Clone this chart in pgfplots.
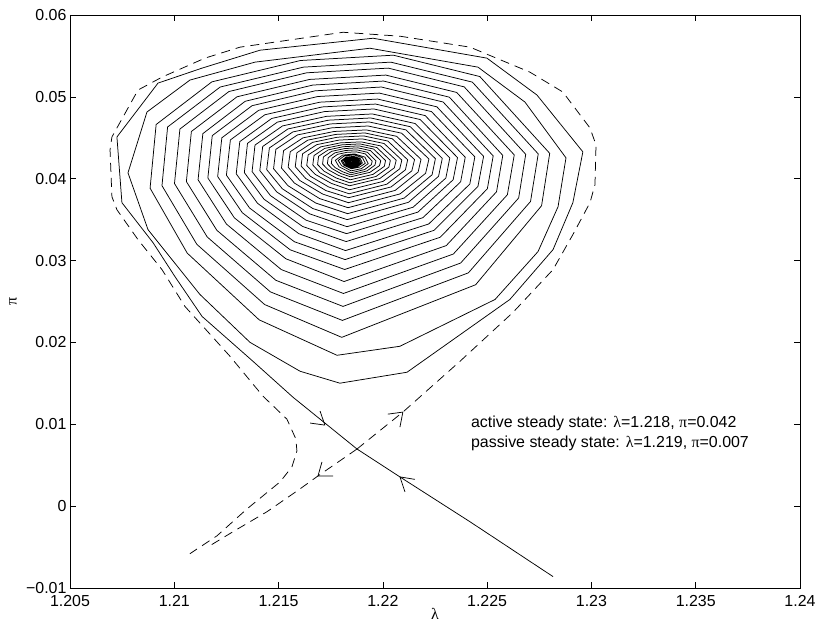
\documentclass[border=0pt]{standalone}
\usepackage{fontspec}
\setmainfont{Liberation Sans}
\newfontfamily\gr{Liberation Serif}
\usepackage{pgfplots}
\pgfplotsset{compat=1.18}
\begin{document}
\begin{tikzpicture}
\useasboundingbox (-70bp,-38bp) rectangle (747bp,588bp);
\begin{axis}[
  at={(0,0)}, anchor=south west,
  scale only axis, width=730bp, height=573bp,
  xmin=1.205, xmax=1.24, ymin=-0.01, ymax=0.06,
  scaled x ticks=false, scaled y ticks=false,
  xtick={1.205,1.21,1.215,1.22,1.225,1.23,1.235,1.24},
  xticklabels={1.205,1.21,1.215,1.22,1.225,1.23,1.235,1.24},
  ytick={-0.01,0,0.01,0.02,0.03,0.04,0.05,0.06},
  yticklabels={−0.01,0,0.01,0.02,0.03,0.04,0.05,0.06},
  tick align=inside,
  major tick length=6bp,
  tick style={black, line width=0.6pt},
  axis line style={line width=0.8pt},
  ticklabel style={font=\fontsize{16}{19}\selectfont},
  xticklabel style={yshift=-4bp},
  xlabel={\gr λ}, ylabel={\gr π},
  label style={font=\fontsize{16}{19}\selectfont},
  xlabel style={at={(axis description cs:0.5,-0.046)}, anchor=center},
  ylabel style={at={(axis description cs:-0.078,0.5)}, anchor=center},
  cycle list={{black,no markers}},
  every axis plot/.append style={black, no markers, line width=0.75pt, line join=round},
]
% stable manifold / spiral (solid)
\addplot[black, no markers, solid] coordinates {
(1.22816,-0.00861) (1.22418,-0.00191) (1.22082,0.00357) (1.21876,0.00698)
(1.21569,0.01331) (1.21377,0.01770) (1.21133,0.02318) (1.21003,0.02805) (1.20898,0.03219)
(1.20749,0.03707) (1.20725,0.04510) (1.20922,0.05168) (1.21133,0.05351) (1.21411,0.05570)
(1.21953,0.05716) (1.22499,0.05473) (1.22739,0.05022) (1.22959,0.04328) (1.22911,0.03707)
(1.22816,0.03134) (1.22609,0.02525) (1.22116,0.01636) (1.21794,0.01502)
(1.21603,0.01648) (1.21363,0.02001) (1.21123,0.02586) (1.20989,0.03012) (1.20874,0.03378)
(1.20778,0.04072) (1.20869,0.04815) (1.21075,0.05205) (1.21387,0.05424) (1.21938,0.05594)
(1.22456,0.05363) (1.22681,0.04937) (1.22878,0.04255) (1.22840,0.03658) (1.22744,0.03110)
(1.22538,0.02525) (1.22082,0.01953) (1.21780,0.01843)
(1.21407,0.02276) (1.21062,0.03091) (1.20884,0.03884) (1.20913,0.04662) (1.21180,0.05183) (1.21605,0.05444) (1.22050,0.05509) (1.22465,0.05248) (1.22800,0.04310) (1.22761,0.03670) (1.22445,0.02705) (1.21803,0.02062)
(1.21433,0.02463) (1.21108,0.03199) (1.20941,0.03915) (1.20968,0.04632) (1.21220,0.05120) (1.21619,0.05363) (1.22038,0.05424) (1.22429,0.05180) (1.22745,0.04303) (1.22708,0.03722) (1.22410,0.02850) (1.21806,0.02269)
(1.21461,0.02617) (1.21158,0.03288) (1.21001,0.03941) (1.21027,0.04607) (1.21262,0.05065) (1.21635,0.05294) (1.22026,0.05351) (1.22390,0.05122) (1.22685,0.04298) (1.22651,0.03764) (1.22373,0.02970) (1.21809,0.02440)
(1.21487,0.02759) (1.21204,0.03370) (1.21058,0.03965) (1.21082,0.04577) (1.21301,0.05001) (1.21649,0.05213) (1.22014,0.05266) (1.22354,0.05054) (1.22630,0.04291) (1.22597,0.03804) (1.22338,0.03080) (1.21811,0.02598)
(1.21513,0.02890) (1.21250,0.03446) (1.21114,0.03987) (1.21137,0.04551) (1.21340,0.04946) (1.21664,0.05144) (1.22003,0.05193) (1.22319,0.04996) (1.22575,0.04285) (1.22545,0.03840) (1.22304,0.03183) (1.21814,0.02744)
(1.21535,0.03022) (1.21288,0.03522) (1.21161,0.04009) (1.21182,0.04526) (1.21373,0.04892) (1.21676,0.05074) (1.21993,0.05120) (1.22289,0.04937) (1.22529,0.04279) (1.22501,0.03877) (1.22275,0.03285) (1.21817,0.02891)
(1.21556,0.03131) (1.21326,0.03585) (1.21208,0.04027) (1.21228,0.04500) (1.21405,0.04836) (1.21688,0.05004) (1.21983,0.05046) (1.22259,0.04878) (1.22483,0.04273) (1.22456,0.03907) (1.22246,0.03370) (1.21819,0.03012)
(1.21576,0.03230) (1.21361,0.03642) (1.21250,0.04043) (1.21269,0.04474) (1.21434,0.04781) (1.21698,0.04935) (1.21975,0.04973) (1.22233,0.04820) (1.22441,0.04267) (1.22417,0.03935) (1.22220,0.03447) (1.21821,0.03122)
(1.21597,0.03329) (1.21399,0.03700) (1.21297,0.04060) (1.21314,0.04453) (1.21467,0.04736) (1.21710,0.04877) (1.21965,0.04912) (1.22203,0.04771) (1.22395,0.04262) (1.22373,0.03962) (1.22192,0.03524) (1.21824,0.03232)
(1.21615,0.03417) (1.21430,0.03750) (1.21336,0.04074) (1.21351,0.04432) (1.21494,0.04691) (1.21720,0.04820) (1.21957,0.04852) (1.22179,0.04723) (1.22358,0.04258) (1.22337,0.03987) (1.22168,0.03592) (1.21826,0.03329)
(1.21632,0.03493) (1.21461,0.03794) (1.21373,0.04087) (1.21387,0.04411) (1.21519,0.04645) (1.21730,0.04762) (1.21950,0.04791) (1.22155,0.04674) (1.22321,0.04253) (1.22302,0.04008) (1.22145,0.03652) (1.21828,0.03414)
(1.21649,0.03571) (1.21491,0.03839) (1.21410,0.04100) (1.21424,0.04394) (1.21545,0.04608) (1.21739,0.04715) (1.21942,0.04742) (1.22132,0.04635) (1.22285,0.04249) (1.22267,0.04029) (1.22123,0.03712) (1.21829,0.03500)
(1.21664,0.03636) (1.21518,0.03877) (1.21443,0.04111) (1.21456,0.04376) (1.21568,0.04571) (1.21748,0.04669) (1.21935,0.04693) (1.22111,0.04596) (1.22252,0.04245) (1.22236,0.04048) (1.22102,0.03763) (1.21831,0.03573)
(1.21679,0.03702) (1.21545,0.03915) (1.21476,0.04122) (1.21487,0.04359) (1.21591,0.04535) (1.21756,0.04622) (1.21929,0.04644) (1.22090,0.04556) (1.22221,0.04241) (1.22205,0.04066) (1.22082,0.03814) (1.21833,0.03646)
(1.21697,0.03757) (1.21576,0.03947) (1.21514,0.04131) (1.21524,0.04343) (1.21617,0.04499) (1.21766,0.04577) (1.21921,0.04596) (1.22066,0.04518) (1.22183,0.04237) (1.22169,0.04081) (1.22059,0.03857) (1.21835,0.03707)
(1.21712,0.03812) (1.21602,0.03978) (1.21546,0.04140) (1.21556,0.04330) (1.21640,0.04471) (1.21774,0.04541) (1.21914,0.04559) (1.22045,0.04488) (1.22152,0.04234) (1.22139,0.04096) (1.22039,0.03899) (1.21836,0.03768)
(1.21727,0.03855) (1.21630,0.04003) (1.21580,0.04147) (1.21588,0.04317) (1.21663,0.04444) (1.21782,0.04507) (1.21908,0.04523) (1.22024,0.04460) (1.22119,0.04231) (1.22108,0.04108) (1.22019,0.03933) (1.21838,0.03816)
(1.21740,0.03899) (1.21653,0.04029) (1.21608,0.04155) (1.21615,0.04304) (1.21683,0.04416) (1.21790,0.04472) (1.21902,0.04486) (1.22006,0.04430) (1.22091,0.04228) (1.22081,0.04121) (1.22001,0.03967) (1.21840,0.03865)
(1.21753,0.03943) (1.21675,0.04054) (1.21635,0.04162) (1.21642,0.04291) (1.21702,0.04389) (1.21797,0.04438) (1.21896,0.04450) (1.21989,0.04401) (1.22064,0.04226) (1.22055,0.04133) (1.21985,0.04002) (1.21841,0.03914)
(1.21766,0.03976) (1.21698,0.04073) (1.21664,0.04168) (1.21670,0.04283) (1.21721,0.04370) (1.21804,0.04414) (1.21890,0.04425) (1.21971,0.04381) (1.22036,0.04224) (1.22029,0.04142) (1.21967,0.04027) (1.21842,0.03950)
(1.21776,0.04009) (1.21718,0.04092) (1.21687,0.04173) (1.21692,0.04274) (1.21738,0.04352) (1.21810,0.04391) (1.21886,0.04401) (1.21956,0.04362) (1.22013,0.04222) (1.22007,0.04151) (1.21953,0.04053) (1.21844,0.03987)
(1.21787,0.04041) (1.21737,0.04111) (1.21711,0.04179) (1.21715,0.04266) (1.21754,0.04334) (1.21816,0.04368) (1.21881,0.04377) (1.21941,0.04343) (1.21990,0.04220) (1.21984,0.04160) (1.21938,0.04078) (1.21845,0.04023)
(1.21798,0.04064) (1.21756,0.04124) (1.21734,0.04182) (1.21738,0.04257) (1.21770,0.04316) (1.21822,0.04345) (1.21876,0.04352) (1.21926,0.04323) (1.21967,0.04218) (1.21962,0.04166) (1.21924,0.04095) (1.21846,0.04048)
(1.21807,0.04085) (1.21771,0.04136) (1.21753,0.04186) (1.21756,0.04249) (1.21783,0.04298) (1.21827,0.04322) (1.21872,0.04328) (1.21915,0.04304) (1.21949,0.04216) (1.21945,0.04172) (1.21913,0.04112) (1.21847,0.04072)
(1.21790,0.04145) (1.21772,0.04225) (1.21807,0.04288) (1.21864,0.04303) (1.21914,0.04264) (1.21930,0.04184) (1.21897,0.04123) (1.21848,0.04096)
(1.21802,0.04159) (1.21786,0.04223) (1.21815,0.04278) (1.21862,0.04291) (1.21902,0.04257) (1.21916,0.04189) (1.21889,0.04142) (1.21849,0.04121)
(1.21812,0.04166) (1.21800,0.04219) (1.21823,0.04263) (1.21860,0.04273) (1.21892,0.04246) (1.21902,0.04191) (1.21881,0.04151) (1.21849,0.04133)
(1.21817,0.04172) (1.21807,0.04217) (1.21827,0.04255) (1.21859,0.04264) (1.21886,0.04240) (1.21895,0.04193) (1.21877,0.04160) (1.21850,0.04145)
(1.21823,0.04179) (1.21815,0.04216) (1.21831,0.04248) (1.21858,0.04255) (1.21881,0.04235) (1.21888,0.04196) (1.21873,0.04169) (1.21850,0.04157)
(1.21827,0.04183) (1.21820,0.04215) (1.21834,0.04242) (1.21857,0.04249) (1.21877,0.04231) (1.21884,0.04198) (1.21870,0.04173) (1.21850,0.04163)
(1.21830,0.04186) (1.21824,0.04213) (1.21836,0.04237) (1.21856,0.04243) (1.21874,0.04228) (1.21880,0.04199) (1.21868,0.04178) (1.21851,0.04169)
(1.21834,0.04190) (1.21829,0.04212) (1.21839,0.04231) (1.21856,0.04236) (1.21870,0.04224) (1.21875,0.04200) (1.21865,0.04183) (1.21851,0.04176)
(1.21838,0.04193) (1.21833,0.04211) (1.21842,0.04226) (1.21855,0.04230) (1.21866,0.04220) (1.21870,0.04201) (1.21862,0.04188) (1.21851,0.04182)
(1.21842,0.04196) (1.21839,0.04209) (1.21845,0.04220) (1.21854,0.04223) (1.21861,0.04216) (1.21864,0.04203) (1.21858,0.04194) (1.21852,0.04191)
(1.21846,0.04200) (1.21845,0.04208) (1.21849,0.04214) (1.21854,0.04215) (1.21858,0.04211) (1.21859,0.04204) (1.21855,0.04199) (1.21852,0.04206)
};
% unstable manifold (dashed)
\addplot[black, no markers, dash pattern=on 9bp off 6bp] coordinates {
(1.21876,0.00698) (1.22096,0.01149) (1.22370,0.01770) (1.22624,0.02367) (1.22816,0.02890)
(1.22911,0.03317) (1.22993,0.03707) (1.23017,0.03926) (1.23022,0.04413) (1.22993,0.04620)
(1.22863,0.05059) (1.22705,0.05302) (1.22418,0.05607) (1.22082,0.05741) (1.21809,0.05789)
(1.21315,0.05607) (1.21147,0.05473) (1.20941,0.05241) (1.20826,0.05083) (1.20701,0.04510)
(1.20692,0.04352) (1.20701,0.03780) (1.20725,0.03621) (1.20826,0.03256) (1.20941,0.02890)
(1.21051,0.02440) (1.21267,0.01831) (1.21425,0.01344) (1.21540,0.01063) (1.21583,0.00820)
(1.21588,0.00674) (1.21564,0.00479) (1.21507,0.00296) (1.21349,-0.00033) (1.21205,-0.00362)
(1.21075,-0.00581)
};
\addplot[black, no markers, dash pattern=on 9bp off 6bp] coordinates {
(1.21876,0.00698) (1.21689,0.00369) (1.21603,0.00211) (1.21444,-0.00069) (1.21281,-0.00313) (1.21171,-0.00483)
};
% arrow heads
\addplot[black, no markers, solid] coordinates {(1.21699,0.01161) (1.21722,0.00990) (1.21651,0.01015)};
\addplot[black, no markers, solid] coordinates {(1.22154,0.00327) (1.22082,0.00357) (1.22106,0.00174)};
\addplot[black, no markers, solid] coordinates {(1.22024,0.01124) (1.22096,0.01149) (1.22082,0.00966)};
\addplot[black, no markers, solid] coordinates {(1.21761,0.00369) (1.21689,0.00369) (1.21708,0.00540)};
\node[anchor=base west, inner sep=0pt, font=\fontsize{16}{19}\selectfont] at (axis cs:1.22422,0.00966) {active steady state: {\gr λ}=1.218, {\gr π}=0.042};
\node[anchor=base west, inner sep=0pt, font=\fontsize{16}{19}\selectfont] at (axis cs:1.22422,0.00722) {passive steady state: {\gr λ}=1.219, {\gr π}=0.007};
\end{axis}
\end{tikzpicture}
\end{document}
